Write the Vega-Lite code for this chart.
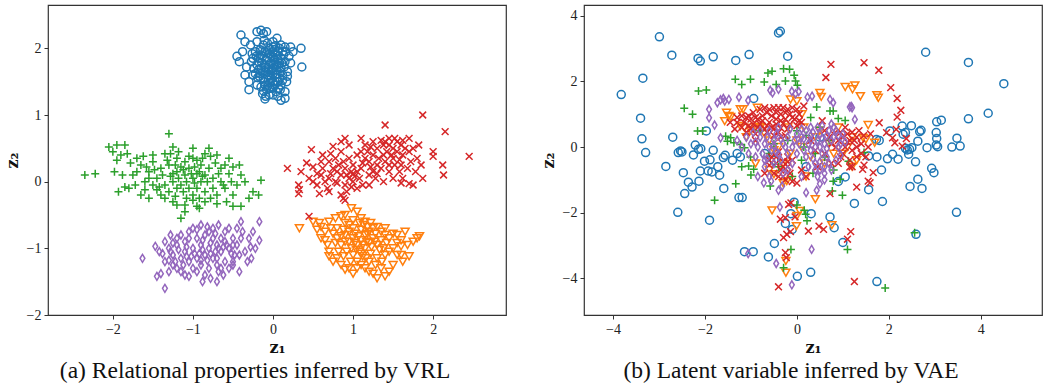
{
"$schema": "https://vega.github.io/schema/vega-lite/v6.json",
"padding": {"left": 3, "top": 4, "right": 5, "bottom": 0},
"background": "white",
"config": {
  "view": {"stroke": "#333333", "strokeWidth": 1.2},
  "font": "Liberation Serif, Times New Roman, serif",
  "axis": {"grid": false, "domain": false, "ticks": true, "tickSize": 4, "tickColor": "#333333", "tickWidth": 1, "labelFont": "Liberation Serif, Times New Roman, serif", "labelFontSize": 14, "labelColor": "#222222", "labelPadding": 3, "titleFont": "DejaVu Serif, serif", "titleFontSize": 16, "titleFontWeight": "bold", "titleColor": "#111111"},
  "title": {"font": "Liberation Serif, Times New Roman, serif", "fontSize": 23.5, "fontWeight": "normal", "color": "#111111"}
},
"datasets": {
"a": [
{"c":0,"x":-0.45,"y":1.88},{"c":0,"x":-0.42,"y":1.8},{"c":0,"x":-0.4,"y":2.2},{"c":0,"x":-0.38,"y":1.95},{"c":0,"x":-0.35,"y":2.1},{"c":0,"x":-0.35,"y":1.6},{"c":0,"x":-0.33,"y":1.72},{"c":0,"x":-0.3,"y":1.5},{"c":0,"x":-0.3,"y":1.38},{"c":0,"x":-0.28,"y":2.05},{"c":0,"x":-0.25,"y":1.85},{"c":0,"x":-0.2,"y":2.25},{"c":0,"x":-0.15,"y":2.27},{"c":0,"x":-0.12,"y":2.22},{"c":0,"x":-0.08,"y":2.25},{"c":0,"x":0.0,"y":2.1},{"c":0,"x":0.05,"y":2.15},{"c":0,"x":0.1,"y":2.05},{"c":0,"x":0.15,"y":2.02},{"c":0,"x":0.22,"y":2.02},{"c":0,"x":0.35,"y":2.0},{"c":0,"x":0.36,"y":1.72},{"c":0,"x":0.15,"y":1.8},{"c":0,"x":0.18,"y":1.65},{"c":0,"x":0.15,"y":1.35},{"c":0,"x":0.15,"y":1.25},{"c":0,"x":0.1,"y":1.22},{"c":0,"x":-0.1,"y":1.24},{"c":0,"x":-0.05,"y":1.3},{"c":0,"x":0.0,"y":1.4},{"c":0,"x":-0.2,"y":1.45},{"c":0,"x":-0.25,"y":1.6},
{"c":0,"x":-0.15,"y":1.9},{"c":0,"x":-0.1,"y":1.95},{"c":0,"x":-0.05,"y":2.0},{"c":0,"x":0.0,"y":1.95},{"c":0,"x":0.05,"y":1.9},{"c":0,"x":0.1,"y":1.85},{"c":0,"x":-0.2,"y":1.75},{"c":0,"x":-0.15,"y":1.7},{"c":0,"x":-0.1,"y":1.65},{"c":0,"x":-0.05,"y":1.75},{"c":0,"x":0.0,"y":1.7},{"c":0,"x":0.05,"y":1.75},{"c":0,"x":0.1,"y":1.7},{"c":0,"x":-0.12,"y":1.55},{"c":0,"x":-0.07,"y":1.6},{"c":0,"x":-0.02,"y":1.55},{"c":0,"x":0.03,"y":1.6},{"c":0,"x":0.08,"y":1.55},{"c":0,"x":-0.1,"y":1.45},{"c":0,"x":-0.04,"y":1.48},{"c":0,"x":0.02,"y":1.45},{"c":0,"x":0.07,"y":1.4},{"c":0,"x":-0.18,"y":1.85},{"c":0,"x":-0.22,"y":1.95},{"c":0,"x":0.12,"y":1.95},{"c":0,"x":-0.08,"y":1.82},{"c":0,"x":0.02,"y":1.82},{"c":0,"x":0.0,"y":1.62},{"c":0,"x":-0.06,"y":1.68},{"c":0,"x":0.04,"y":1.68},{"c":0,"x":-0.14,"y":1.78},{"c":0,"x":0.12,"y":1.6},{"c":0,"x":-0.16,"y":1.62},{"c":0,"x":-0.02,"y":1.88},{"c":0,"x":0.08,"y":2.0},{"c":0,"x":-0.12,"y":2.05},{"c":0,"x":0.06,"y":1.5},{"c":0,"x":-0.08,"y":1.38},{"c":0,"x":0.0,"y":1.3},{"c":0,"x":-0.03,"y":1.78},
{"c":0,"x":-0.18,"y":1.68},{"c":0,"x":-0.13,"y":1.88},{"c":0,"x":-0.09,"y":1.72},{"c":0,"x":-0.04,"y":1.92},{"c":0,"x":0.01,"y":1.76},{"c":0,"x":0.06,"y":1.84},{"c":0,"x":0.11,"y":1.78},{"c":0,"x":-0.11,"y":1.5},{"c":0,"x":-0.06,"y":1.52},{"c":0,"x":0.0,"y":1.5},{"c":0,"x":0.05,"y":1.62},{"c":0,"x":0.09,"y":1.66},{"c":0,"x":-0.19,"y":1.56},{"c":0,"x":-0.16,"y":1.98},{"c":0,"x":-0.07,"y":2.08},{"c":0,"x":0.03,"y":2.04},{"c":0,"x":0.13,"y":1.9},{"c":0,"x":0.17,"y":1.5},{"c":0,"x":0.2,"y":1.88},{"c":0,"x":-0.24,"y":1.7},{"c":0,"x":-0.27,"y":1.8},{"c":0,"x":-0.02,"y":1.68},{"c":0,"x":0.07,"y":1.72},{"c":0,"x":-0.12,"y":1.36},{"c":0,"x":0.04,"y":1.35},{"c":0,"x":-0.15,"y":1.42},{"c":0,"x":0.1,"y":1.45},{"c":0,"x":-0.05,"y":1.58},{"c":0,"x":0.02,"y":1.98},{"c":0,"x":-0.1,"y":1.75},{"c":0,"x":-0.21,"y":1.88},{"c":0,"x":0.14,"y":1.72},{"c":0,"x":0.0,"y":1.86},{"c":0,"x":-0.08,"y":1.93},{"c":0,"x":-0.03,"y":1.64},{"c":0,"x":0.05,"y":1.56},
{"c":0,"x":-0.17,"y":1.58},{"c":0,"x":-0.13,"y":1.64},{"c":0,"x":-0.07,"y":1.86},{"c":0,"x":0.03,"y":1.9},{"c":0,"x":0.08,"y":1.78},{"c":0,"x":-0.01,"y":1.42},{"c":0,"x":-0.14,"y":1.96},{"c":0,"x":0.06,"y":1.96},{"c":0,"x":-0.11,"y":2.12},{"c":0,"x":0.12,"y":1.52},{"c":0,"x":-0.22,"y":1.62},{"c":0,"x":-0.04,"y":1.4},{"c":0,"x":0.09,"y":1.38},{"c":0,"x":-0.18,"y":1.8},{"c":0,"x":0.16,"y":1.95},{"c":0,"x":-0.09,"y":1.28},{"c":0,"x":0.06,"y":1.28},{"c":0,"x":-0.26,"y":1.92},{"c":0,"x":0.22,"y":1.78},{"c":0,"x":0.25,"y":1.95},{"c":0,"x":-0.13,"y":1.32},{"c":0,"x":0.0,"y":2.02},{"c":0,"x":-0.2,"y":2.1},{"c":0,"x":0.18,"y":1.58},{"c":0,"x":-0.06,"y":1.44},
{"c":1,"x":0.33,"y":-0.7},{"c":1,"x":0.5,"y":-0.6},{"c":1,"x":0.55,"y":-0.72},{"c":1,"x":0.6,"y":-0.68},{"c":1,"x":0.65,"y":-0.75},{"c":1,"x":0.7,"y":-0.6},{"c":1,"x":0.78,"y":-0.55},{"c":1,"x":0.85,"y":-0.52},{"c":1,"x":0.9,"y":-0.5},{"c":1,"x":0.98,"y":-0.4},{"c":1,"x":1.05,"y":-0.45},{"c":1,"x":1.1,"y":-0.55},{"c":1,"x":1.15,"y":-0.6},{"c":1,"x":0.68,"y":-0.95},{"c":1,"x":0.7,"y":-1.05},{"c":1,"x":0.75,"y":-1.2},{"c":1,"x":0.85,"y":-1.25},{"c":1,"x":0.9,"y":-1.32},{"c":1,"x":1.0,"y":-1.38},{"c":1,"x":1.15,"y":-1.3},{"c":1,"x":1.3,"y":-1.45},{"c":1,"x":1.4,"y":-1.42},{"c":1,"x":1.45,"y":-1.35},{"c":1,"x":1.5,"y":-1.25},{"c":1,"x":1.6,"y":-1.1},{"c":1,"x":1.7,"y":-1.12},{"c":1,"x":1.75,"y":-0.9},{"c":1,"x":1.8,"y":-0.85},{"c":1,"x":1.83,"y":-0.82},{"c":1,"x":1.6,"y":-0.97},{"c":1,"x":1.55,"y":-0.8},{"c":1,"x":1.65,"y":-0.75},{"c":1,"x":1.5,"y":-0.78},
{"c":1,"x":0.9,"y":-0.8},{"c":1,"x":0.95,"y":-0.9},{"c":1,"x":1.0,"y":-0.85},{"c":1,"x":1.05,"y":-0.95},{"c":1,"x":1.1,"y":-0.88},{"c":1,"x":1.15,"y":-0.8},{"c":1,"x":1.2,"y":-0.92},{"c":1,"x":1.25,"y":-0.85},{"c":1,"x":1.3,"y":-0.95},{"c":1,"x":1.35,"y":-0.88},{"c":1,"x":0.85,"y":-0.95},{"c":1,"x":0.92,"y":-1.05},{"c":1,"x":1.0,"y":-1.1},{"c":1,"x":1.08,"y":-1.05},{"c":1,"x":1.15,"y":-1.0},{"c":1,"x":1.22,"y":-1.08},{"c":1,"x":1.3,"y":-1.15},{"c":1,"x":1.38,"y":-1.0},{"c":1,"x":1.42,"y":-0.92},{"c":1,"x":0.8,"y":-0.85},{"c":1,"x":0.75,"y":-0.78},{"c":1,"x":1.0,"y":-0.7},{"c":1,"x":1.1,"y":-0.72},{"c":1,"x":1.2,"y":-0.75},{"c":1,"x":1.28,"y":-0.78},{"c":1,"x":0.95,"y":-0.65},{"c":1,"x":1.05,"y":-1.2},{"c":1,"x":1.2,"y":-1.2},{"c":1,"x":1.12,"y":-1.12},{"c":1,"x":0.88,"y":-1.12},{"c":1,"x":1.4,"y":-1.1},{"c":1,"x":1.18,"y":-0.68},
{"c":1,"x":0.95,"y":-0.75},{"c":1,"x":1.02,"y":-0.92},{"c":1,"x":1.07,"y":-0.82},{"c":1,"x":1.12,"y":-0.95},{"c":1,"x":1.17,"y":-0.9},{"c":1,"x":1.23,"y":-0.98},{"c":1,"x":1.27,"y":-0.9},{"c":1,"x":1.33,"y":-1.02},{"c":1,"x":0.98,"y":-1.0},{"c":1,"x":1.04,"y":-1.02},{"c":1,"x":1.1,"y":-1.08},{"c":1,"x":1.16,"y":-1.15},{"c":1,"x":0.9,"y":-0.9},{"c":1,"x":0.85,"y":-0.82},{"c":1,"x":1.25,"y":-0.7},{"c":1,"x":1.35,"y":-0.75},{"c":1,"x":1.45,"y":-0.85},{"c":1,"x":1.5,"y":-1.0},{"c":1,"x":1.55,"y":-1.1},{"c":1,"x":0.82,"y":-1.05},{"c":1,"x":0.78,"y":-0.92},{"c":1,"x":1.13,"y":-0.65},{"c":1,"x":0.6,"y":-0.85},{"c":1,"x":1.28,"y":-1.25},{"c":1,"x":1.36,"y":-1.2},{"c":1,"x":1.6,"y":-0.88},{"c":1,"x":1.05,"y":-1.3},{"c":1,"x":0.97,"y":-1.2},{"c":1,"x":1.2,"y":-1.35},{"c":1,"x":0.72,"y":-0.7},
{"c":1,"x":0.65,"y":-0.88},{"c":1,"x":0.8,"y":-0.7},{"c":1,"x":0.9,"y":-0.62},{"c":1,"x":1.0,"y":-0.58},{"c":1,"x":1.08,"y":-0.62},{"c":1,"x":1.22,"y":-0.62},{"c":1,"x":1.3,"y":-0.68},{"c":1,"x":1.4,"y":-0.7},{"c":1,"x":1.45,"y":-1.05},{"c":1,"x":1.35,"y":-1.3},{"c":1,"x":1.25,"y":-1.38},{"c":1,"x":1.1,"y":-1.25},{"c":1,"x":0.95,"y":-1.3},{"c":1,"x":0.8,"y":-1.15},{"c":1,"x":0.7,"y":-1.12},{"c":1,"x":1.55,"y":-0.92},{"c":1,"x":1.68,"y":-0.95},{"c":1,"x":1.62,"y":-1.2},{"c":1,"x":0.58,"y":-0.62},{"c":1,"x":1.18,"y":-0.78},{"c":1,"x":1.02,"y":-0.78},{"c":1,"x":0.88,"y":-0.72},{"c":1,"x":1.4,"y":-0.8},
{"c":2,"x":-2.35,"y":0.1},{"c":2,"x":-2.22,"y":0.12},{"c":2,"x":-2.05,"y":0.52},{"c":2,"x":-2.0,"y":0.45},{"c":2,"x":-1.95,"y":0.55},{"c":2,"x":-1.9,"y":0.4},{"c":2,"x":-1.85,"y":0.55},{"c":2,"x":-1.95,"y":0.32},{"c":2,"x":-1.98,"y":0.15},{"c":2,"x":-1.93,"y":-0.15},{"c":2,"x":-1.85,"y":-0.08},{"c":2,"x":-1.8,"y":-0.1},{"c":2,"x":-1.75,"y":0.1},{"c":2,"x":-1.7,"y":0.35},{"c":2,"x":-1.65,"y":-0.2},{"c":2,"x":-1.55,"y":-0.25},{"c":2,"x":-1.5,"y":0.4},{"c":2,"x":-1.3,"y":0.72},{"c":2,"x":-1.25,"y":0.52},{"c":2,"x":-1.0,"y":0.5},{"c":2,"x":-0.8,"y":0.5},{"c":2,"x":-0.7,"y":0.4},{"c":2,"x":-0.55,"y":0.35},{"c":2,"x":-0.42,"y":0.25},{"c":2,"x":-0.4,"y":0.1},{"c":2,"x":-0.15,"y":0.02},{"c":2,"x":-0.25,"y":-0.15},{"c":2,"x":-0.18,"y":-0.2},{"c":2,"x":-0.4,"y":-0.37},{"c":2,"x":-0.5,"y":-0.37},{"c":2,"x":-0.7,"y":-0.33},{"c":2,"x":-0.95,"y":-0.37},{"c":2,"x":-1.1,"y":-0.35},{"c":2,"x":-1.15,"y":-0.55},{"c":2,"x":-1.25,"y":-0.3},{"c":2,"x":-1.35,"y":-0.25},{"c":2,"x":-0.5,"y":-0.2},{"c":2,"x":-0.6,"y":-0.1},
{"c":2,"x":-1.4,"y":0.2},{"c":2,"x":-1.3,"y":0.25},{"c":2,"x":-1.2,"y":0.15},{"c":2,"x":-1.1,"y":0.1},{"c":2,"x":-1.0,"y":0.05},{"c":2,"x":-0.9,"y":0.0},{"c":2,"x":-1.25,"y":0.0},{"c":2,"x":-1.15,"y":-0.05},{"c":2,"x":-1.05,"y":-0.1},{"c":2,"x":-0.95,"y":-0.1},{"c":2,"x":-0.85,"y":0.1},{"c":2,"x":-0.75,"y":0.05},{"c":2,"x":-0.65,"y":0.0},{"c":2,"x":-1.35,"y":-0.05},{"c":2,"x":-1.45,"y":0.05},{"c":2,"x":-1.55,"y":0.15},{"c":2,"x":-1.6,"y":0.0},{"c":2,"x":-1.2,"y":0.35},{"c":2,"x":-1.1,"y":0.3},{"c":2,"x":-0.9,"y":0.25},{"c":2,"x":-0.8,"y":0.2},{"c":2,"x":-1.3,"y":-0.15},{"c":2,"x":-1.0,"y":-0.2},{"c":2,"x":-0.85,"y":-0.15},{"c":2,"x":-0.75,"y":-0.1},{"c":2,"x":-1.05,"y":0.2},{"c":2,"x":-1.15,"y":0.22},{"c":2,"x":-0.95,"y":0.12},{"c":2,"x":-1.2,"y":-0.1},{"c":2,"x":-0.7,"y":-0.2},{"c":2,"x":-0.55,"y":0.12},{"c":2,"x":-1.45,"y":-0.12},{"c":2,"x":-1.5,"y":0.3},{"c":2,"x":-1.65,"y":0.25},{"c":2,"x":-0.6,"y":0.25},
{"c":2,"x":-1.38,"y":0.1},{"c":2,"x":-1.28,"y":0.08},{"c":2,"x":-1.18,"y":0.05},{"c":2,"x":-1.08,"y":0.0},{"c":2,"x":-0.98,"y":-0.02},{"c":2,"x":-0.88,"y":0.08},{"c":2,"x":-1.32,"y":0.32},{"c":2,"x":-1.22,"y":0.25},{"c":2,"x":-1.12,"y":0.18},{"c":2,"x":-1.02,"y":0.12},{"c":2,"x":-0.92,"y":0.15},{"c":2,"x":-0.82,"y":0.0},{"c":2,"x":-1.4,"y":-0.2},{"c":2,"x":-1.22,"y":-0.22},{"c":2,"x":-1.08,"y":-0.25},{"c":2,"x":-0.92,"y":-0.25},{"c":2,"x":-0.78,"y":-0.25},{"c":2,"x":-0.68,"y":0.12},{"c":2,"x":-0.62,"y":-0.05},{"c":2,"x":-1.55,"y":0.05},{"c":2,"x":-1.6,"y":-0.12},{"c":2,"x":-1.7,"y":0.15},{"c":2,"x":-1.78,"y":0.28},{"c":2,"x":-1.88,"y":0.1},{"c":2,"x":-1.5,"y":-0.05},{"c":2,"x":-1.05,"y":0.38},{"c":2,"x":-0.95,"y":0.32},{"c":2,"x":-0.72,"y":0.28},{"c":2,"x":-0.45,"y":-0.05},{"c":2,"x":-1.12,"y":-0.15},{"c":2,"x":-0.58,"y":-0.3},{"c":2,"x":-1.0,"y":-0.28},{"c":2,"x":-1.28,"y":0.42},{"c":2,"x":-0.85,"y":0.42},
{"c":2,"x":-1.48,"y":0.18},{"c":2,"x":-1.42,"y":-0.08},{"c":2,"x":-1.35,"y":0.42},{"c":2,"x":-1.18,"y":0.45},{"c":2,"x":-1.0,"y":0.35},{"c":2,"x":-0.88,"y":0.35},{"c":2,"x":-0.78,"y":0.38},{"c":2,"x":-0.65,"y":0.2},{"c":2,"x":-0.52,"y":0.0},{"c":2,"x":-0.5,"y":0.22},{"c":2,"x":-0.85,"y":-0.3},{"c":2,"x":-1.2,"y":-0.35},{"c":2,"x":-1.62,"y":0.38},{"c":2,"x":-1.72,"y":-0.05},{"c":2,"x":-1.82,"y":0.42},{"c":2,"x":-1.58,"y":0.22},{"c":2,"x":-0.35,"y":0.0},{"c":2,"x":-0.3,"y":-0.25},{"c":2,"x":-1.1,"y":-0.45},{"c":2,"x":-0.92,"y":-0.4},{"c":2,"x":-1.25,"y":0.12},{"c":2,"x":-0.98,"y":0.22},
{"c":3,"x":0.18,"y":0.2},{"c":3,"x":0.32,"y":-0.05},{"c":3,"x":0.33,"y":-0.12},{"c":3,"x":0.32,"y":-0.18},{"c":3,"x":0.35,"y":0.15},{"c":3,"x":0.42,"y":0.28},{"c":3,"x":0.48,"y":0.48},{"c":3,"x":0.58,"y":-0.18},{"c":3,"x":0.75,"y":0.53},{"c":3,"x":0.85,"y":0.6},{"c":3,"x":0.9,"y":0.65},{"c":3,"x":0.85,"y":-0.2},{"c":3,"x":0.88,"y":-0.25},{"c":3,"x":0.9,"y":-0.28},{"c":3,"x":1.05,"y":-0.1},{"c":3,"x":1.1,"y":0.65},{"c":3,"x":1.25,"y":0.6},{"c":3,"x":1.4,"y":0.85},{"c":3,"x":1.45,"y":0.65},{"c":3,"x":1.7,"y":0.65},{"c":3,"x":1.75,"y":0.5},{"c":3,"x":1.8,"y":0.35},{"c":3,"x":1.87,"y":1.0},{"c":3,"x":1.87,"y":0.05},{"c":3,"x":1.75,"y":-0.05},{"c":3,"x":1.7,"y":-0.03},{"c":3,"x":1.6,"y":-0.02},{"c":3,"x":2.0,"y":0.45},{"c":3,"x":2.0,"y":0.38},{"c":3,"x":2.12,"y":0.25},{"c":3,"x":2.13,"y":0.1},{"c":3,"x":2.15,"y":0.75},{"c":3,"x":2.45,"y":0.38},{"c":3,"x":0.45,"y":-0.52},
{"c":3,"x":0.6,"y":0.1},{"c":3,"x":0.7,"y":0.05},{"c":3,"x":0.8,"y":0.15},{"c":3,"x":0.9,"y":0.2},{"c":3,"x":1.0,"y":0.25},{"c":3,"x":1.1,"y":0.2},{"c":3,"x":1.2,"y":0.3},{"c":3,"x":1.3,"y":0.25},{"c":3,"x":1.4,"y":0.3},{"c":3,"x":1.5,"y":0.35},{"c":3,"x":0.65,"y":0.0},{"c":3,"x":0.75,"y":0.2},{"c":3,"x":0.85,"y":0.1},{"c":3,"x":0.95,"y":0.05},{"c":3,"x":1.05,"y":0.15},{"c":3,"x":1.15,"y":0.35},{"c":3,"x":1.25,"y":0.4},{"c":3,"x":1.35,"y":0.2},{"c":3,"x":1.45,"y":0.15},{"c":3,"x":1.55,"y":0.45},{"c":3,"x":1.6,"y":0.25},{"c":3,"x":1.65,"y":0.5},{"c":3,"x":0.55,"y":0.12},{"c":3,"x":0.95,"y":0.35},{"c":3,"x":1.1,"y":0.45},{"c":3,"x":1.3,"y":0.5},{"c":3,"x":1.5,"y":0.5},{"c":3,"x":1.2,"y":0.1},{"c":3,"x":1.0,"y":0.0},{"c":3,"x":0.8,"y":-0.02},{"c":3,"x":1.38,"y":0.4},{"c":3,"x":1.6,"y":0.55},{"c":3,"x":0.7,"y":0.3},{"c":3,"x":1.45,"y":0.55},{"c":3,"x":1.25,"y":0.15},{"c":3,"x":0.5,"y":0.0},
{"c":3,"x":0.62,"y":0.2},{"c":3,"x":0.72,"y":0.12},{"c":3,"x":0.82,"y":0.25},{"c":3,"x":0.92,"y":0.1},{"c":3,"x":1.02,"y":0.08},{"c":3,"x":1.12,"y":0.28},{"c":3,"x":1.22,"y":0.22},{"c":3,"x":1.32,"y":0.35},{"c":3,"x":1.42,"y":0.45},{"c":3,"x":1.52,"y":0.25},{"c":3,"x":1.62,"y":0.4},{"c":3,"x":1.72,"y":0.3},{"c":3,"x":0.68,"y":-0.1},{"c":3,"x":0.78,"y":0.0},{"c":3,"x":0.88,"y":0.3},{"c":3,"x":0.98,"y":0.15},{"c":3,"x":1.08,"y":0.05},{"c":3,"x":1.18,"y":0.45},{"c":3,"x":1.28,"y":0.05},{"c":3,"x":1.38,"y":0.55},{"c":3,"x":1.48,"y":0.4},{"c":3,"x":1.58,"y":0.15},{"c":3,"x":1.68,"y":0.2},{"c":3,"x":0.92,"y":-0.15},{"c":3,"x":1.15,"y":0.55},{"c":3,"x":1.35,"y":0.62},{"c":3,"x":1.55,"y":0.6},{"c":3,"x":0.6,"y":0.3},{"c":3,"x":0.5,"y":0.22},{"c":3,"x":0.45,"y":0.05},{"c":3,"x":1.78,"y":0.15},{"c":3,"x":1.2,"y":-0.05},{"c":3,"x":1.62,"y":0.05},{"c":3,"x":0.85,"y":0.45},
{"c":3,"x":0.55,"y":-0.05},{"c":3,"x":0.62,"y":0.4},{"c":3,"x":0.72,"y":0.42},{"c":3,"x":0.95,"y":0.55},{"c":3,"x":1.05,"y":0.4},{"c":3,"x":1.22,"y":0.52},{"c":3,"x":1.4,"y":0.6},{"c":3,"x":1.52,"y":0.65},{"c":3,"x":1.62,"y":0.62},{"c":3,"x":1.7,"y":0.45},{"c":3,"x":1.82,"y":0.55},{"c":3,"x":1.85,"y":0.25},{"c":3,"x":0.98,"y":-0.08},{"c":3,"x":1.12,"y":-0.05},{"c":3,"x":1.38,"y":0.0},{"c":3,"x":1.5,"y":0.05},{"c":3,"x":0.78,"y":0.35},{"c":3,"x":0.7,"y":-0.15},{"c":3,"x":0.9,"y":-0.05},{"c":3,"x":1.0,"y":0.12},{"c":3,"x":1.3,"y":0.12},{"c":3,"x":1.45,"y":0.25},{"c":3,"x":1.58,"y":0.33},
{"c":4,"x":-1.63,"y":-1.15},{"c":4,"x":-1.47,"y":-0.97},{"c":4,"x":-1.45,"y":-1.42},{"c":4,"x":-1.4,"y":-1.38},{"c":4,"x":-1.35,"y":-1.6},{"c":4,"x":-1.3,"y":-1.35},{"c":4,"x":-1.28,"y":-0.8},{"c":4,"x":-1.25,"y":-1.25},{"c":4,"x":-1.0,"y":-0.7},{"c":4,"x":-0.9,"y":-0.65},{"c":4,"x":-0.7,"y":-1.5},{"c":4,"x":-0.65,"y":-1.3},{"c":4,"x":-0.5,"y":-1.2},{"c":4,"x":-0.42,"y":-1.35},{"c":4,"x":-0.4,"y":-0.6},{"c":4,"x":-0.3,"y":-0.85},{"c":4,"x":-0.28,"y":-0.98},{"c":4,"x":-0.27,"y":-1.15},{"c":4,"x":-0.17,"y":-0.6},{"c":4,"x":-0.17,"y":-0.88},{"c":4,"x":-0.45,"y":-0.7},{"c":4,"x":-1.1,"y":-1.4},{"c":4,"x":-1.2,"y":-1.3},
{"c":4,"x":-1.3,"y":-1.0},{"c":4,"x":-1.2,"y":-0.95},{"c":4,"x":-1.1,"y":-1.05},{"c":4,"x":-1.0,"y":-1.0},{"c":4,"x":-0.9,"y":-0.95},{"c":4,"x":-0.8,"y":-1.0},{"c":4,"x":-0.7,"y":-0.95},{"c":4,"x":-0.6,"y":-0.9},{"c":4,"x":-1.25,"y":-1.1},{"c":4,"x":-1.15,"y":-1.15},{"c":4,"x":-1.05,"y":-1.2},{"c":4,"x":-0.95,"y":-1.15},{"c":4,"x":-0.85,"y":-1.1},{"c":4,"x":-0.75,"y":-1.15},{"c":4,"x":-0.65,"y":-1.05},{"c":4,"x":-0.55,"y":-1.0},{"c":4,"x":-1.2,"y":-0.85},{"c":4,"x":-0.85,"y":-0.8},{"c":4,"x":-0.8,"y":-0.75},{"c":4,"x":-0.75,"y":-0.85},{"c":4,"x":-0.9,"y":-1.25},{"c":4,"x":-0.8,"y":-1.3},{"c":4,"x":-0.7,"y":-1.25},{"c":4,"x":-1.0,"y":-1.3},{"c":4,"x":-0.5,"y":-0.85},{"c":4,"x":-1.35,"y":-0.9},{"c":4,"x":-0.6,"y":-1.2},{"c":4,"x":-0.95,"y":-0.85},{"c":4,"x":-1.1,"y":-0.9},{"c":4,"x":-0.45,"y":-0.95},
{"c":4,"x":-1.28,"y":-1.05},{"c":4,"x":-1.18,"y":-1.02},{"c":4,"x":-1.08,"y":-0.98},{"c":4,"x":-0.98,"y":-1.08},{"c":4,"x":-0.88,"y":-1.02},{"c":4,"x":-0.78,"y":-1.08},{"c":4,"x":-0.68,"y":-1.0},{"c":4,"x":-0.58,"y":-0.95},{"c":4,"x":-1.22,"y":-1.2},{"c":4,"x":-1.12,"y":-1.25},{"c":4,"x":-1.02,"y":-1.12},{"c":4,"x":-0.92,"y":-1.08},{"c":4,"x":-0.82,"y":-1.18},{"c":4,"x":-0.72,"y":-1.05},{"c":4,"x":-0.62,"y":-0.98},{"c":4,"x":-0.52,"y":-1.08},{"c":4,"x":-0.88,"y":-0.88},{"c":4,"x":-0.82,"y":-0.68},{"c":4,"x":-0.78,"y":-0.92},{"c":4,"x":-0.72,"y":-0.78},{"c":4,"x":-0.65,"y":-0.85},{"c":4,"x":-0.6,"y":-0.75},{"c":4,"x":-0.95,"y":-1.35},{"c":4,"x":-0.85,"y":-1.4},{"c":4,"x":-0.78,"y":-1.45},{"c":4,"x":-0.68,"y":-1.35},{"c":4,"x":-1.15,"y":-0.8},{"c":4,"x":-1.3,"y":-1.18},{"c":4,"x":-0.4,"y":-0.85},{"c":4,"x":-0.35,"y":-1.05},{"c":4,"x":-0.48,"y":-1.1},{"c":4,"x":-1.05,"y":-0.85},{"c":4,"x":-0.55,"y":-1.3},{"c":4,"x":-1.38,"y":-1.08},
{"c":4,"x":-1.42,"y":-1.05},{"c":4,"x":-1.35,"y":-1.2},{"c":4,"x":-1.25,"y":-0.92},{"c":4,"x":-1.05,"y":-0.75},{"c":4,"x":-0.95,"y":-0.72},{"c":4,"x":-0.75,"y":-0.7},{"c":4,"x":-0.68,"y":-0.65},{"c":4,"x":-0.55,"y":-0.7},{"c":4,"x":-0.5,"y":-0.95},{"c":4,"x":-0.42,"y":-1.1},{"c":4,"x":-0.38,"y":-0.75},{"c":4,"x":-0.32,"y":-1.2},{"c":4,"x":-0.62,"y":-1.4},{"c":4,"x":-0.88,"y":-1.5},{"c":4,"x":-1.05,"y":-1.42},{"c":4,"x":-1.15,"y":-1.35},{"c":4,"x":-0.7,"y":-1.15},{"c":4,"x":-0.9,"y":-1.18},{"c":4,"x":-1.08,"y":-1.12},{"c":4,"x":-0.5,"y":-1.25},{"c":4,"x":-0.25,"y":-0.75},{"c":4,"x":-0.22,"y":-1.0}
],
"b": [
{"c":0,"x":-3.82,"y":1.6},{"c":0,"x":-2.99,"y":3.36},{"c":0,"x":-2.72,"y":2.8},{"c":0,"x":-3.35,"y":2.1},{"c":0,"x":-3.4,"y":0.88},{"c":0,"x":-3.37,"y":0.25},{"c":0,"x":-3.29,"y":-0.17},{"c":0,"x":-2.85,"y":-0.59},{"c":0,"x":-2.7,"y":0.3},{"c":0,"x":-2.59,"y":-1.99},{"c":0,"x":-2.58,"y":-0.17},{"c":0,"x":-2.53,"y":-0.12},{"c":0,"x":-2.5,"y":-0.15},{"c":0,"x":-2.47,"y":-0.78},{"c":0,"x":-2.44,"y":-1.42},{"c":0,"x":-2.36,"y":-1.07},{"c":0,"x":-2.28,"y":-1.22},{"c":0,"x":-2.25,"y":-0.24},{"c":0,"x":-2.21,"y":0.06},{"c":0,"x":-2.14,"y":-0.07},{"c":0,"x":-2.09,"y":-0.05},{"c":0,"x":-2.13,"y":-1.04},{"c":0,"x":-2.1,"y":-0.73},{"c":0,"x":-2.15,"y":2.7},{"c":0,"x":-2.1,"y":2.62},{"c":0,"x":-1.9,"y":-2.23},{"c":0,"x":-1.97,"y":0.49},{"c":0,"x":-2.01,"y":-0.43},{"c":0,"x":-1.93,"y":-0.73},{"c":0,"x":-1.85,"y":-0.76},{"c":0,"x":-1.89,"y":-0.39},{"c":0,"x":-1.82,"y":-0.1},{"c":0,"x":-1.82,"y":2.75},{"c":0,"x":-1.72,"y":-0.6},{"c":0,"x":-1.68,"y":-0.86},{"c":0,"x":-1.59,"y":-1.26},{"c":0,"x":-1.6,"y":-0.32},{"c":0,"x":-1.56,"y":-0.25},{"c":0,"x":-1.33,"y":2.64},{"c":0,"x":-1.26,"y":-1.54},{"c":0,"x":-1.19,"y":-1.54},{"c":0,"x":-1.23,"y":-0.3},{"c":0,"x":-1.04,"y":2.82},{"c":0,"x":-0.94,"y":1.48},{"c":0,"x":-1.14,"y":-3.19},{"c":0,"x":-0.95,"y":-3.19},{"c":0,"x":-0.62,"y":-3.35},{"c":0,"x":-0.49,"y":-2.94},{"c":0,"x":-0.4,"y":3.48},{"c":0,"x":-0.36,"y":3.53},{"c":0,"x":-0.2,"y":2.77},{"c":0,"x":-0.25,"y":-2.33},{"c":0,"x":-0.1,"y":-2.51},{"c":0,"x":-0.06,"y":-1.68},{"c":0,"x":-0.13,"y":-2.03},{"c":0,"x":0.01,"y":-3.94},{"c":0,"x":0.3,"y":-3.82},{"c":0,"x":0.31,"y":-2.03},{"c":0,"x":0.72,"y":-2.13},{"c":0,"x":0.81,"y":-2.46},{"c":0,"x":1.0,"y":-2.91},{"c":0,"x":1.05,"y":-0.91},{"c":0,"x":1.25,"y":-1.72},{"c":0,"x":1.56,"y":-1.3},{"c":0,"x":1.56,"y":-0.27},{"c":0,"x":1.74,"y":-0.3},{"c":0,"x":1.74,"y":-4.1},{"c":0,"x":1.73,"y":0.23},{"c":0,"x":1.79,"y":0.2},{"c":0,"x":1.84,"y":-0.7},{"c":0,"x":1.86,"y":-1.66},{"c":0,"x":1.97,"y":-0.36},{"c":0,"x":2.02,"y":0.49},{"c":0,"x":2.08,"y":-0.22},{"c":0,"x":2.2,"y":-0.37},{"c":0,"x":2.29,"y":0.64},{"c":0,"x":2.31,"y":0.39},{"c":0,"x":2.36,"y":0.44},{"c":0,"x":2.43,"y":-0.22},{"c":0,"x":2.46,"y":-1.2},{"c":0,"x":2.49,"y":0.65},{"c":0,"x":2.5,"y":-0.02},{"c":0,"x":2.45,"y":-0.07},{"c":0,"x":2.58,"y":-0.45},{"c":0,"x":2.59,"y":-2.66},{"c":0,"x":2.63,"y":-0.98},{"c":0,"x":2.67,"y":0.47},{"c":0,"x":2.7,"y":0.51},{"c":0,"x":2.63,"y":0.18},{"c":0,"x":2.72,"y":-1.26},{"c":0,"x":2.8,"y":2.89},{"c":0,"x":2.83,"y":-0.02},{"c":0,"x":2.93,"y":-0.65},{"c":0,"x":2.98,"y":-0.78},{"c":0,"x":3.04,"y":0.77},{"c":0,"x":3.14,"y":0.82},{"c":0,"x":3.03,"y":0.44},{"c":0,"x":3.04,"y":0.26},{"c":0,"x":3.03,"y":0.06},{"c":0,"x":3.06,"y":0.01},{"c":0,"x":3.37,"y":0.0},{"c":0,"x":3.48,"y":0.27},{"c":0,"x":3.55,"y":0.03},{"c":0,"x":3.47,"y":-1.99},{"c":0,"x":3.73,"y":2.58},{"c":0,"x":3.73,"y":0.86},{"c":0,"x":4.16,"y":1.03},{"c":0,"x":4.5,"y":1.93},{"c":0,"x":2.36,"y":-0.04},{"c":0,"x":2.4,"y":-0.09},{"c":0,"x":-0.5,"y":-0.4},{"c":0,"x":0.2,"y":-0.6},{"c":0,"x":0.5,"y":0.3},{"c":0,"x":-0.7,"y":-0.2},{"c":0,"x":0.9,"y":-1.05},{"c":0,"x":-1.4,"y":-0.4},{"c":0,"x":-1.3,"y":-0.2},
{"c":1,"x":-1.53,"y":1.05},{"c":1,"x":-1.48,"y":0.95},{"c":1,"x":-1.57,"y":0.79},{"c":1,"x":-1.44,"y":0.92},{"c":1,"x":-1.23,"y":1.15},{"c":1,"x":-1.17,"y":1.15},{"c":1,"x":-0.86,"y":1.2},{"c":1,"x":-1.23,"y":0.64},{"c":1,"x":-1.14,"y":0.59},{"c":1,"x":-0.9,"y":0.61},{"c":1,"x":-0.79,"y":0.61},{"c":1,"x":-0.14,"y":1.45},{"c":1,"x":0.0,"y":1.4},{"c":1,"x":0.11,"y":1.0},{"c":1,"x":0.5,"y":1.65},{"c":1,"x":0.53,"y":1.53},{"c":1,"x":1.05,"y":1.83},{"c":1,"x":1.26,"y":1.88},{"c":1,"x":1.21,"y":1.76},{"c":1,"x":1.38,"y":1.55},{"c":1,"x":1.74,"y":1.58},{"c":1,"x":1.77,"y":1.5},{"c":1,"x":1.55,"y":0.67},{"c":1,"x":1.5,"y":0.23},{"c":1,"x":1.44,"y":0.28},{"c":1,"x":1.69,"y":0.13},{"c":1,"x":-0.54,"y":-1.93},{"c":1,"x":0.06,"y":-1.95},{"c":1,"x":0.0,"y":-2.1},{"c":1,"x":0.4,"y":-1.59},{"c":1,"x":0.76,"y":-2.38},{"c":1,"x":-0.01,"y":-2.41},{"c":1,"x":-0.24,"y":-3.47},{"c":1,"x":-0.24,"y":-3.83},{"c":1,"x":-0.22,"y":-1.04},{"c":1,"x":-0.5,"y":-0.83},{"c":1,"x":-0.7,"y":0.4},{"c":1,"x":-0.5,"y":-0.1},{"c":1,"x":-0.3,"y":-0.5},{"c":1,"x":0.0,"y":0.2},{"c":1,"x":0.3,"y":-0.3},{"c":1,"x":0.7,"y":0.1},{"c":1,"x":1.0,"y":-0.2},{"c":1,"x":-0.9,"y":-0.5},{"c":1,"x":0.5,"y":0.5},{"c":1,"x":1.2,"y":0.3},{"c":1,"x":-0.2,"y":0.6},{"c":1,"x":0.9,"y":0.6},{"c":1,"x":0.2,"y":-0.9},{"c":1,"x":1.3,"y":-0.4},{"c":1,"x":-0.6,"y":-0.7},{"c":1,"x":-1.0,"y":0.5},{"c":1,"x":1.1,"y":0.0},
{"c":1,"x":-0.8,"y":0.6},{"c":1,"x":-0.6,"y":0.2},{"c":1,"x":-0.4,"y":0.0},{"c":1,"x":-0.15,"y":-0.2},{"c":1,"x":0.1,"y":0.0},{"c":1,"x":0.4,"y":0.3},{"c":1,"x":0.6,"y":-0.5},{"c":1,"x":0.8,"y":-0.2},{"c":1,"x":1.2,"y":-0.6},{"c":1,"x":-0.3,"y":-1.1},{"c":1,"x":0.15,"y":0.6},{"c":1,"x":-1.1,"y":0.3},
{"c":2,"x":-2.14,"y":1.71},{"c":2,"x":-1.97,"y":1.74},{"c":2,"x":-2.45,"y":1.18},{"c":2,"x":-2.27,"y":1.0},{"c":2,"x":-2.16,"y":0.49},{"c":2,"x":-2.05,"y":0.49},{"c":2,"x":-1.79,"y":-1.62},{"c":2,"x":-1.34,"y":2.07},{"c":2,"x":-1.2,"y":1.91},{"c":2,"x":-1.01,"y":2.07},{"c":2,"x":-0.71,"y":1.98},{"c":2,"x":-0.63,"y":2.26},{"c":2,"x":-0.54,"y":2.31},{"c":2,"x":-0.45,"y":1.91},{"c":2,"x":-0.29,"y":2.39},{"c":2,"x":-0.16,"y":2.37},{"c":2,"x":-0.25,"y":2.01},{"c":2,"x":-0.06,"y":2.19},{"c":2,"x":-0.03,"y":2.01},{"c":2,"x":0.01,"y":1.88},{"c":2,"x":-1.33,"y":-1.12},{"c":2,"x":-1.55,"y":0.33},{"c":2,"x":-1.51,"y":0.18},{"c":2,"x":-1.44,"y":0.28},{"c":2,"x":-1.37,"y":0.13},{"c":2,"x":-1.23,"y":0.08},{"c":2,"x":-1.14,"y":-0.02},{"c":2,"x":-1.01,"y":-0.3},{"c":2,"x":-1.05,"y":-0.58},{"c":2,"x":-1.0,"y":-0.85},{"c":2,"x":-0.94,"y":-0.68},{"c":2,"x":-0.58,"y":-1.19},{"c":2,"x":0.0,"y":-1.77},{"c":2,"x":0.16,"y":-1.93},{"c":2,"x":0.19,"y":-2.05},{"c":2,"x":0.22,"y":-2.25},{"c":2,"x":-0.13,"y":-3.12},{"c":2,"x":-0.29,"y":-3.68},{"c":2,"x":0.43,"y":1.22},{"c":2,"x":0.72,"y":1.1},{"c":2,"x":0.79,"y":1.1},{"c":2,"x":0.9,"y":0.87},{"c":2,"x":1.05,"y":0.81},{"c":2,"x":0.79,"y":-1.04},{"c":2,"x":0.94,"y":-0.98},{"c":2,"x":0.77,"y":-1.34},{"c":2,"x":0.99,"y":-1.47},{"c":2,"x":1.12,"y":-0.43},{"c":2,"x":1.46,"y":-0.17},{"c":2,"x":1.1,"y":-3.12},{"c":2,"x":2.56,"y":-2.61},{"c":2,"x":1.92,"y":-4.3},{"c":2,"x":-0.2,"y":0.2},{"c":2,"x":0.1,"y":-0.4},{"c":2,"x":0.5,"y":0.6},{"c":2,"x":0.6,"y":-0.3},{"c":2,"x":-0.4,"y":-0.6},{"c":2,"x":0.3,"y":0.9},{"c":2,"x":-0.8,"y":0.5},{"c":2,"x":0.0,"y":0.5},{"c":2,"x":0.8,"y":-0.7},{"c":2,"x":-0.5,"y":0.1},{"c":2,"x":0.35,"y":-0.8},{"c":2,"x":0.2,"y":0.35},{"c":2,"x":-0.6,"y":-0.2},{"c":2,"x":0.4,"y":-0.2},{"c":2,"x":0.7,"y":0.2},{"c":2,"x":-0.1,"y":-0.9},{"c":2,"x":0.15,"y":0.0},{"c":2,"x":-1.2,"y":-0.6},
{"c":3,"x":0.74,"y":2.52},{"c":3,"x":1.46,"y":2.57},{"c":3,"x":1.78,"y":2.34},{"c":3,"x":0.63,"y":2.12},{"c":3,"x":2.04,"y":1.81},{"c":3,"x":2.18,"y":1.48},{"c":3,"x":2.26,"y":1.12},{"c":3,"x":2.18,"y":0.91},{"c":3,"x":1.79,"y":0.74},{"c":3,"x":1.95,"y":0.44},{"c":3,"x":2.16,"y":0.54},{"c":3,"x":2.08,"y":0.28},{"c":3,"x":2.13,"y":0.13},{"c":3,"x":2.38,"y":0.26},{"c":3,"x":2.29,"y":0.03},{"c":3,"x":1.3,"y":-1.22},{"c":3,"x":1.55,"y":-1.04},{"c":3,"x":1.59,"y":-1.09},{"c":3,"x":1.46,"y":-0.55},{"c":3,"x":1.43,"y":-0.68},{"c":3,"x":1.66,"y":-0.78},{"c":3,"x":1.15,"y":-0.61},{"c":3,"x":0.72,"y":-1.42},{"c":3,"x":0.25,"y":-2.56},{"c":3,"x":0.48,"y":-2.41},{"c":3,"x":0.58,"y":-2.51},{"c":3,"x":1.17,"y":-2.58},{"c":3,"x":1.1,"y":-2.81},{"c":3,"x":1.25,"y":-4.1},{"c":3,"x":-0.4,"y":-4.26},{"c":3,"x":-0.25,"y":-3.22},{"c":3,"x":-0.23,"y":-3.37},{"c":3,"x":-0.29,"y":-2.76},{"c":3,"x":-0.22,"y":-2.66},{"c":3,"x":-0.14,"y":-2.58},{"c":3,"x":-0.36,"y":-2.2},{"c":3,"x":-0.25,"y":-2.15},{"c":3,"x":-0.18,"y":-1.75},{"c":3,"x":-0.13,"y":-1.7},{"c":3,"x":-0.04,"y":-2.13},
{"c":3,"x":-1.1,"y":0.9},{"c":3,"x":-1.0,"y":0.85},{"c":3,"x":-0.9,"y":0.9},{"c":3,"x":-0.7,"y":1.2},{"c":3,"x":-0.6,"y":1.15},{"c":3,"x":-0.5,"y":1.2},{"c":3,"x":-0.4,"y":1.2},{"c":3,"x":-0.3,"y":1.2},{"c":3,"x":-0.2,"y":1.15},{"c":3,"x":-0.1,"y":1.2},{"c":3,"x":0.0,"y":1.15},{"c":3,"x":0.15,"y":1.25},{"c":3,"x":-0.8,"y":0.7},{"c":3,"x":-0.6,"y":0.75},{"c":3,"x":-0.45,"y":0.7},{"c":3,"x":-0.3,"y":0.72},{"c":3,"x":-0.15,"y":0.7},{"c":3,"x":0.0,"y":0.65},{"c":3,"x":-0.7,"y":0.55},{"c":3,"x":-0.5,"y":0.55},{"c":3,"x":-0.35,"y":0.58},{"c":3,"x":-0.2,"y":0.55},{"c":3,"x":-1.2,"y":0.6},{"c":3,"x":-1.3,"y":0.75},{"c":3,"x":-1.1,"y":0.45},{"c":3,"x":-0.9,"y":0.4},{"c":3,"x":-0.6,"y":-0.4},{"c":3,"x":-0.45,"y":-0.5},{"c":3,"x":-0.3,"y":-0.45},{"c":3,"x":-0.2,"y":-0.6},{"c":3,"x":-0.35,"y":-0.7},{"c":3,"x":-0.5,"y":-0.8},{"c":3,"x":-0.1,"y":-0.4},{"c":3,"x":-0.25,"y":-1.0},{"c":3,"x":0.0,"y":-1.1},{"c":3,"x":0.2,"y":-0.9},{"c":3,"x":-0.15,"y":-0.8},{"c":3,"x":0.9,"y":0.2},{"c":3,"x":1.0,"y":0.3},{"c":3,"x":1.05,"y":0.0},{"c":3,"x":1.1,"y":0.4},{"c":3,"x":1.2,"y":-0.1},{"c":3,"x":1.25,"y":0.2},{"c":3,"x":1.3,"y":-0.3},{"c":3,"x":1.35,"y":0.5},{"c":3,"x":1.15,"y":-0.4},{"c":3,"x":1.0,"y":-0.2},{"c":3,"x":0.9,"y":-0.5},{"c":3,"x":1.4,"y":0.1},{"c":3,"x":1.2,"y":-0.6},{"c":3,"x":0.8,"y":0.4},{"c":3,"x":0.6,"y":0.5},{"c":3,"x":-1.3,"y":0.9},{"c":3,"x":-1.45,"y":0.75},
{"c":3,"x":-1.15,"y":0.75},{"c":3,"x":-1.05,"y":0.95},{"c":3,"x":-0.95,"y":0.7},{"c":3,"x":-0.85,"y":0.85},{"c":3,"x":-0.75,"y":0.95},{"c":3,"x":-0.65,"y":0.65},{"c":3,"x":-0.55,"y":0.95},{"c":3,"x":-0.45,"y":0.85},{"c":3,"x":-0.35,"y":1.0},{"c":3,"x":-0.25,"y":0.85},{"c":3,"x":-0.15,"y":1.0},{"c":3,"x":-0.05,"y":0.85},{"c":3,"x":0.05,"y":1.0},{"c":3,"x":0.1,"y":0.75},{"c":3,"x":-0.8,"y":1.15},{"c":3,"x":-0.65,"y":0.45},{"c":3,"x":-0.4,"y":0.45},{"c":3,"x":-0.25,"y":0.35},{"c":3,"x":-1.0,"y":0.55},{"c":3,"x":-0.9,"y":0.2},{"c":3,"x":0.3,"y":0.2},{"c":3,"x":0.4,"y":-0.1},{"c":3,"x":0.6,"y":-0.2},{"c":3,"x":0.7,"y":0.3},{"c":3,"x":0.75,"y":-0.5},{"c":3,"x":0.95,"y":0.45},{"c":3,"x":1.05,"y":0.6},{"c":3,"x":1.15,"y":0.2},{"c":3,"x":1.3,"y":0.0},{"c":3,"x":1.45,"y":0.35},{"c":3,"x":0.55,"y":0.8},{"c":3,"x":-0.55,"y":-0.3},{"c":3,"x":-0.4,"y":-0.15},{"c":3,"x":-0.3,"y":-0.9},{"c":3,"x":-0.1,"y":-1.05},{"c":3,"x":0.1,"y":-0.7},{"c":3,"x":-0.7,"y":-0.8},{"c":3,"x":-0.2,"y":-0.3},{"c":3,"x":0.45,"y":-0.6},{"c":3,"x":1.6,"y":0.4},{"c":3,"x":1.5,"y":-0.3},
{"c":3,"x":-1.05,"y":0.65},{"c":3,"x":-0.95,"y":1.05},{"c":3,"x":-0.85,"y":0.6},{"c":3,"x":-0.75,"y":0.8},{"c":3,"x":-0.65,"y":1.05},{"c":3,"x":-0.55,"y":0.6},{"c":3,"x":-0.45,"y":1.05},{"c":3,"x":-0.35,"y":0.8},{"c":3,"x":-0.25,"y":1.05},{"c":3,"x":-0.1,"y":0.9},{"c":3,"x":0.05,"y":0.8},{"c":3,"x":-0.5,"y":0.35},{"c":3,"x":-0.35,"y":0.3},{"c":3,"x":-0.6,"y":-0.55},{"c":3,"x":-0.45,"y":-0.3},{"c":3,"x":-0.3,"y":-0.6},{"c":3,"x":-0.2,"y":-0.45},{"c":3,"x":-0.4,"y":-0.9},{"c":3,"x":0.85,"y":0.0},{"c":3,"x":0.95,"y":-0.3},{"c":3,"x":1.1,"y":0.15},{"c":3,"x":1.2,"y":0.45},{"c":3,"x":1.3,"y":0.3},{"c":3,"x":1.4,"y":-0.2},{"c":3,"x":1.55,"y":0.0},{"c":3,"x":0.75,"y":0.1},{"c":3,"x":-1.35,"y":0.55},{"c":3,"x":-1.2,"y":0.95},
{"c":4,"x":-1.91,"y":1.15},{"c":4,"x":-1.91,"y":0.89},{"c":4,"x":-1.79,"y":0.67},{"c":4,"x":-1.73,"y":1.35},{"c":4,"x":-1.66,"y":1.44},{"c":4,"x":-1.6,"y":1.48},{"c":4,"x":-1.57,"y":1.4},{"c":4,"x":-1.48,"y":1.45},{"c":4,"x":-1.26,"y":1.52},{"c":4,"x":-1.06,"y":1.42},{"c":4,"x":-0.58,"y":1.73},{"c":4,"x":-0.53,"y":1.65},{"c":4,"x":-0.4,"y":1.76},{"c":4,"x":-0.11,"y":1.7},{"c":4,"x":-0.03,"y":1.62},{"c":4,"x":0.04,"y":1.69},{"c":4,"x":0.23,"y":1.52},{"c":4,"x":0.33,"y":1.55},{"c":4,"x":0.72,"y":1.45},{"c":4,"x":0.79,"y":1.35},{"c":4,"x":1.15,"y":1.22},{"c":4,"x":1.18,"y":1.24},{"c":4,"x":1.2,"y":1.2},{"c":4,"x":1.26,"y":0.84},{"c":4,"x":-0.72,"y":-1.09},{"c":4,"x":-0.56,"y":-1.04},{"c":4,"x":-0.4,"y":-1.32},{"c":4,"x":-0.32,"y":-1.19},{"c":4,"x":0.2,"y":-1.39},{"c":4,"x":0.43,"y":-1.32},{"c":4,"x":0.5,"y":-1.12},{"c":4,"x":-0.37,"y":-1.83},{"c":4,"x":0.32,"y":-3.12},{"c":4,"x":-0.45,"y":-3.55},{"c":4,"x":-0.11,"y":-4.2},{"c":4,"x":-1.06,"y":-3.25},{"c":4,"x":-1.66,"y":0.28},
{"c":4,"x":-0.8,"y":0.3},{"c":4,"x":-0.7,"y":0.1},{"c":4,"x":-0.6,"y":0.0},{"c":4,"x":-0.5,"y":0.2},{"c":4,"x":-0.4,"y":-0.2},{"c":4,"x":-0.3,"y":0.1},{"c":4,"x":-0.2,"y":0.3},{"c":4,"x":-0.1,"y":0.0},{"c":4,"x":0.0,"y":-0.2},{"c":4,"x":0.1,"y":0.3},{"c":4,"x":0.2,"y":0.5},{"c":4,"x":0.3,"y":0.2},{"c":4,"x":0.4,"y":0.0},{"c":4,"x":0.5,"y":0.4},{"c":4,"x":0.6,"y":0.1},{"c":4,"x":0.7,"y":0.5},{"c":4,"x":0.8,"y":0.3},{"c":4,"x":0.9,"y":0.0},{"c":4,"x":1.0,"y":0.4},{"c":4,"x":0.4,"y":-0.5},{"c":4,"x":0.5,"y":-0.7},{"c":4,"x":0.6,"y":-0.8},{"c":4,"x":0.2,"y":-0.3},{"c":4,"x":-0.5,"y":-0.5},{"c":4,"x":-0.7,"y":-0.6},{"c":4,"x":-0.9,"y":-0.3},{"c":4,"x":-1.0,"y":0.1},{"c":4,"x":-1.1,"y":0.3},{"c":4,"x":-1.2,"y":0.0},{"c":4,"x":-0.3,"y":-0.8},{"c":4,"x":0.65,"y":-0.3},{"c":4,"x":0.75,"y":0.7},{"c":4,"x":0.3,"y":0.6},{"c":4,"x":-0.15,"y":0.55},{"c":4,"x":0.0,"y":0.4},{"c":4,"x":0.55,"y":0.65},{"c":4,"x":0.85,"y":-0.4},{"c":4,"x":-0.6,"y":0.5},{"c":4,"x":-1.3,"y":0.2},{"c":4,"x":-0.85,"y":-0.9},
{"c":4,"x":-0.75,"y":-0.2},{"c":4,"x":-0.65,"y":0.3},{"c":4,"x":-0.55,"y":-0.1},{"c":4,"x":-0.45,"y":0.4},{"c":4,"x":-0.35,"y":-0.4},{"c":4,"x":-0.25,"y":0.0},{"c":4,"x":-0.1,"y":-0.5},{"c":4,"x":0.05,"y":0.1},{"c":4,"x":0.15,"y":-0.1},{"c":4,"x":0.25,"y":-0.6},{"c":4,"x":0.35,"y":0.45},{"c":4,"x":0.45,"y":0.2},{"c":4,"x":0.55,"y":-0.2},{"c":4,"x":0.65,"y":0.35},{"c":4,"x":0.7,"y":-0.5},{"c":4,"x":0.8,"y":0.6},{"c":4,"x":0.9,"y":0.35},{"c":4,"x":0.95,"y":-0.25},{"c":4,"x":1.05,"y":0.15},{"c":4,"x":0.6,"y":-1.0},{"c":4,"x":0.45,"y":-0.9},{"c":4,"x":-0.6,"y":-0.9},{"c":4,"x":-0.85,"y":0.0},{"c":4,"x":-0.95,"y":0.45},{"c":4,"x":-1.05,"y":-0.2},{"c":4,"x":-0.2,"y":-0.7},{"c":4,"x":0.1,"y":-0.9},{"c":4,"x":0.3,"y":-0.1},{"c":4,"x":-0.4,"y":0.6},{"c":4,"x":0.5,"y":0.0},
{"c":4,"x":-0.65,"y":-0.35},{"c":4,"x":-0.5,"y":0.05},{"c":4,"x":-0.35,"y":0.25},{"c":4,"x":-0.2,"y":-0.2},{"c":4,"x":-0.05,"y":0.2},{"c":4,"x":0.1,"y":0.55},{"c":4,"x":0.25,"y":0.1},{"c":4,"x":0.35,"y":-0.35},{"c":4,"x":0.45,"y":0.6},{"c":4,"x":0.55,"y":0.25},{"c":4,"x":0.65,"y":-0.05},{"c":4,"x":0.75,"y":0.2},{"c":4,"x":0.85,"y":0.5},{"c":4,"x":0.95,"y":0.1},{"c":4,"x":0.6,"y":-0.6},{"c":4,"x":0.75,"y":-0.7},{"c":4,"x":0.5,"y":-0.45},{"c":4,"x":-0.8,"y":0.5},{"c":4,"x":-0.7,"y":-0.4},{"c":4,"x":-0.9,"y":0.15},{"c":4,"x":0.3,"y":0.35},{"c":4,"x":0.4,"y":-0.7},{"c":4,"x":0.15,"y":0.25},{"c":4,"x":-0.45,"y":-0.15}
]
},
"hconcat": [
 {
  "width": 458, "height": 310,
  "title": {"text": "(a) Relational properties inferred by VRL", "orient": "bottom", "anchor": "middle", "frame": "bounds", "offset": 4},
  "data": {"name": "a"},
  "mark": {"type": "point", "filled": false, "opacity": 1, "size": 64},
  "encoding": {
   "x": {"field": "x", "type": "quantitative", "scale": {"domain": [-2.81, 2.91], "nice": false, "zero": false}, "axis": {"values": [-2, -1, 0, 1, 2], "title": "z₁", "titlePadding": 3}},
   "y": {"field": "y", "type": "quantitative", "scale": {"domain": [-2.0, 2.65], "nice": false, "zero": false}, "axis": {"values": [-2, -1, 0, 1, 2], "title": "z₂", "titlePadding": 6}},
   "color": {"field": "c", "type": "nominal", "scale": {"domain": [0, 1, 2, 3, 4], "range": ["#1f77b4", "#ff7f0e", "#2ca02c", "#d62728", "#9467bd"]}, "legend": null},
   "shape": {"field": "c", "type": "nominal", "scale": {"domain": [0, 1, 2, 3, 4], "range": ["circle", "triangle-down", "M-1,0L1,0M0,-1L0,1", "M-0.85,-0.85L0.85,0.85M-0.85,0.85L0.85,-0.85", "M0,-1L0.6,0L0,1L-0.6,0Z"]}, "legend": null},
   "strokeWidth": {"field": "c", "type": "nominal", "scale": {"domain": [0, 1, 2, 3, 4], "range": [1.5, 1.5, 2.3, 2.3, 1.4]}, "legend": null}
  }
 },
 {
  "width": 458, "height": 310,
  "title": {"text": "(b) Latent variable inferred by VAE", "orient": "bottom", "anchor": "middle", "frame": "bounds", "offset": 4},
  "data": {"name": "b"},
  "mark": {"type": "point", "filled": false, "opacity": 1, "size": 64},
  "encoding": {
   "x": {"field": "x", "type": "quantitative", "scale": {"domain": [-4.63, 5.33], "nice": false, "zero": false}, "axis": {"values": [-4, -2, 0, 2, 4], "title": "z₁", "titlePadding": 3}},
   "y": {"field": "y", "type": "quantitative", "scale": {"domain": [-5.12, 4.33], "nice": false, "zero": false}, "axis": {"values": [-4, -2, 0, 2, 4], "title": "z₂", "titlePadding": 6}},
   "color": {"field": "c", "type": "nominal", "scale": {"domain": [0, 1, 2, 3, 4], "range": ["#1f77b4", "#ff7f0e", "#2ca02c", "#d62728", "#9467bd"]}, "legend": null},
   "shape": {"field": "c", "type": "nominal", "scale": {"domain": [0, 1, 2, 3, 4], "range": ["circle", "triangle-down", "M-1,0L1,0M0,-1L0,1", "M-0.85,-0.85L0.85,0.85M-0.85,0.85L0.85,-0.85", "M0,-1L0.6,0L0,1L-0.6,0Z"]}, "legend": null},
   "strokeWidth": {"field": "c", "type": "nominal", "scale": {"domain": [0, 1, 2, 3, 4], "range": [1.5, 1.5, 2.3, 2.3, 1.4]}, "legend": null}
  }
 }
],
"spacing": 32,
"resolve": {"scale": {"x": "independent", "y": "independent", "color": "independent", "shape": "independent", "strokeWidth": "independent"}}
}
